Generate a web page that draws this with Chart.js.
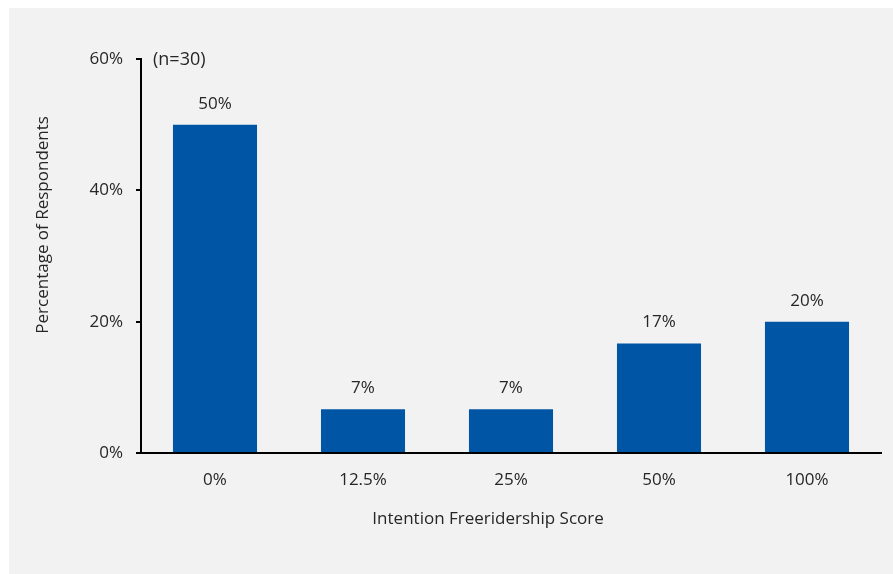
<!DOCTYPE html>
<html><head><meta charset="utf-8">
<script src="https://cdn.jsdelivr.net/npm/chart.js@4"></script>
<style>html,body{margin:0;padding:0;background:#fff}#wrap{width:893px;height:574px}</style>
</head><body><div id="wrap"><canvas id="c" width="893" height="574"></canvas></div>
<script>
const categories = ['0%', '12.5%', '25%', '50%', '100%'];
const values = [50, 6.67, 6.67, 16.67, 20];
const yTicks = [0, 20, 40, 60];
const sampleNote = '(n=30)';
const yTitle = 'Percentage of Respondents';
const xTitle = 'Intention Freeridership Score';

const FONT = '"Open Sans", Lato, sans-serif';
const TXT = '#262626';

const bgPlugin = {
  id: 'bg',
  beforeDraw(chart) {
    const ctx = chart.ctx;
    ctx.save();
    ctx.fillStyle = '#ffffff';
    ctx.fillRect(0, 0, chart.width, chart.height);
    ctx.fillStyle = '#f2f2f2';
    ctx.fillRect(9, 8, chart.width - 9, chart.height - 8);
    ctx.restore();
  }
};
const labelPlugin = {
  id: 'labels',
  afterDatasetsDraw(chart) {
    const ctx = chart.ctx;
    const ca = chart.chartArea;
    ctx.save();
    ctx.font = '17px ' + FONT;
    ctx.fillStyle = TXT;
    ctx.textAlign = 'center';
    ctx.textBaseline = 'middle';
    const meta = chart.getDatasetMeta(0);
    meta.data.forEach((bar, i) => {
      ctx.fillText(Math.round(values[i]) + '%', bar.x, bar.y - 21);
    });
    // axis titles
    ctx.fillText(xTitle, ca.left + (ca.right - ca.left) * 0.469, ca.bottom + 66);
    ctx.save();
    ctx.translate(43, ca.top + (ca.bottom - ca.top) * 0.421);
    ctx.rotate(-Math.PI / 2);
    ctx.fillText(yTitle, 0, 0);
    ctx.restore();
    ctx.textAlign = 'left';
    ctx.font = '18px ' + FONT;
    ctx.fillText(sampleNote, ca.left + 12, ca.top + 1);
    ctx.restore();
  }
};

new Chart(document.getElementById('c'), {
  type: 'bar',
  data: {
    labels: categories,
    datasets: [{
      data: values,
      backgroundColor: '#0055a5',
      borderWidth: 0,
      categoryPercentage: 1,
      barPercentage: 0.568
    }]
  },
  options: {
    responsive: false,
    animation: false,
    devicePixelRatio: 1,
    layout: { padding: { top: 59, right: 12, left: 0, bottom: 0 } },
    plugins: { legend: { display: false }, tooltip: { enabled: false } },
    scales: {
      x: {
        afterFit(s) { s.height = 121; },
        grid: { display: false, drawTicks: false },
        border: { display: true, color: '#000', width: 2 },
        ticks: { color: TXT, font: { family: FONT, size: 17 }, padding: 17 }
      },
      y: {
        min: 0, max: 60,
        afterFit(s) { s.width = 141; },
        afterBuildTicks(s) { s.ticks = yTicks.map(v => ({ value: v })); },
        grid: { drawOnChartArea: false, drawTicks: true, tickLength: 5, color: '#000', lineWidth: 2 },
        border: { display: true, color: '#000', width: 2 },
        ticks: { color: TXT, font: { family: FONT, size: 17 }, padding: 13, callback: v => v + '%' }
      }
    }
  },
  plugins: [bgPlugin, labelPlugin]
});
</script>
</body></html>
